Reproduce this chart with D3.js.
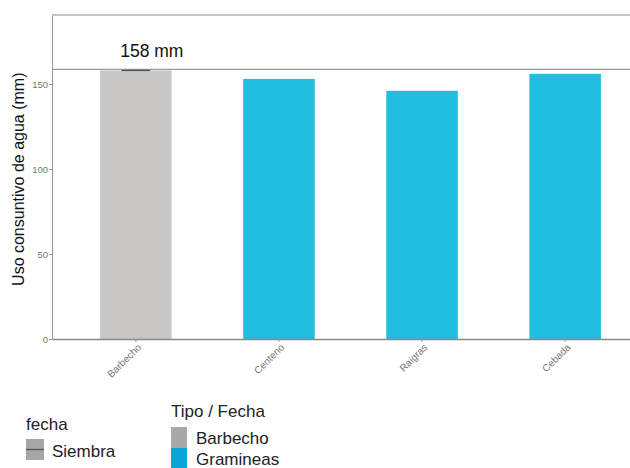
<!DOCTYPE html>
<html>
<head>
<meta charset="utf-8">
<style>
  body { margin: 0; background: #fff; }
  svg { font-family: 'Liberation Sans', Arial, sans-serif; }
  .tick text { fill: #777; }
</style>
</head>
<body>
<svg width="630" height="468"></svg>
<script src="https://d3js.org/d3.v7.min.js"></script>
<script>

// datos
var cultivos = ["Barbecho", "Centeno", "Raigras", "Cebada"];
var usoAgua = [158, 153, 146, 156];
var tipo = ["Barbecho", "Gramineas", "Gramineas", "Gramineas"];
var siembra = [158];          // marca "Siembra" sobre el barbecho
var referencia = 158;         // linea horizontal y etiqueta
var yTicks = [0, 50, 100, 150];

var svg = d3.select("svg"),
    margin = {top: 15, right: -19, bottom: 129, left: 52},
    width = +svg.attr("width") - margin.left - margin.right,
    height = +svg.attr("height") - margin.top - margin.bottom,
    g = svg.append("g").attr("transform", "translate(" + margin.left + "," + margin.top + ")");

var x = d3.scaleBand()
    .domain(cultivos)
    .range([0, width])
    .paddingInner(0.5)
    .paddingOuter(0.336);

var y = d3.scaleLinear()
    .domain([0, 190.6])
    .range([height, 0]);

var color = d3.scaleOrdinal()
    .domain(["Barbecho", "Gramineas"])
    .range(["#c9c6c6", "#20bfdf"]);

// borde superior del panel
g.append("line")
  .attr("x1", 0).attr("x2", width)
  .attr("y1", 0).attr("y2", 0)
  .attr("stroke", "#8a8a8a").attr("stroke-width", 1.2);

// barras
g.selectAll(".bar")
  .data(cultivos)
  .enter().append("rect")
  .attr("class", "bar")
  .attr("x", function (d) { return x(d); })
  .attr("y", function (d, i) { return y(usoAgua[i]); })
  .attr("width", x.bandwidth())
  .attr("height", function (d, i) { return height - y(usoAgua[i]); })
  .attr("fill", function (d, i) { return color(tipo[i]); });

// linea de referencia
g.append("line")
  .attr("x1", 0).attr("x2", width)
  .attr("y1", y(referencia) - 1).attr("y2", y(referencia) - 1)
  .attr("stroke", "#9a9a9a").attr("stroke-width", 1.2);

// marca de siembra
g.selectAll(".siembra")
  .data(siembra)
  .enter().append("line")
  .attr("class", "siembra")
  .attr("x1", x("Barbecho") + x.bandwidth() * 0.3)
  .attr("x2", x("Barbecho") + x.bandwidth() * 0.7)
  .attr("y1", function (d) { return y(d); })
  .attr("y2", function (d) { return y(d); })
  .attr("stroke", "#555").attr("stroke-width", 1.3);

g.append("text")
  .attr("x", x("Barbecho") + x.bandwidth() / 2 + 16)
  .attr("y", y(referencia) - 13)
  .attr("text-anchor", "middle")
  .style("font-size", "17.5px")
  .attr("fill", "#111")
  .text(referencia + " mm");

// ejes
var ax = g.append("g")
  .attr("transform", "translate(0," + height + ")")
  .call(d3.axisBottom(x).tickSize(3).tickSizeOuter(0));
ax.select(".domain").attr("stroke", "#888").attr("stroke-width", 1.5);
ax.selectAll(".tick line").attr("stroke", "#999");
ax.selectAll("text")
  .attr("y", 0).attr("x", 0).attr("dy", 0)
  .attr("transform", "translate(6,9) rotate(-45)")
  .style("text-anchor", "end")
  .style("font-size", "10px");

var ay = g.append("g")
  .call(d3.axisLeft(y).tickValues(yTicks).tickSize(3).tickSizeOuter(0));
ay.select(".domain").attr("stroke", "#999");
ay.selectAll(".tick line").attr("stroke", "#999");
ay.selectAll("text").style("font-size", "9.5px").attr("x", -4);

svg.append("text")
  .attr("transform", "translate(24," + (margin.top + y(94)) + ") rotate(-90)")
  .attr("text-anchor", "middle")
  .style("font-size", "16px")
  .attr("fill", "#111")
  .text("Uso consuntivo de agua (mm)");

// leyendas
var leg1 = svg.append("g").attr("transform", "translate(26,0)");
leg1.append("text").attr("x", 0).attr("y", 430)
  .style("font-size", "17px").attr("fill", "#222").text("fecha");
leg1.append("rect").attr("x", 0).attr("y", 439).attr("width", 18).attr("height", 21)
  .attr("fill", "#a6a6a6");
leg1.append("line").attr("x1", 0).attr("x2", 18).attr("y1", 449.5).attr("y2", 449.5)
  .attr("stroke", "#555").attr("stroke-width", 1.3);
leg1.append("text").attr("x", 26).attr("y", 457)
  .style("font-size", "17px").attr("fill", "#222").text("Siembra");

var leg2 = svg.append("g").attr("transform", "translate(171,0)");
leg2.append("text").attr("x", 0).attr("y", 417)
  .style("font-size", "17px").attr("fill", "#222").text("Tipo / Fecha");
var claves = ["Barbecho", "Gramineas"];
var clavesColor = ["#a8a8a8", "#0ba5dc"];
leg2.selectAll(".clave")
  .data(claves)
  .enter().append("rect")
  .attr("x", 0)
  .attr("y", function (d, i) { return 427 + i * 21; })
  .attr("width", 16).attr("height", 21)
  .attr("fill", function (d, i) { return clavesColor[i]; });
leg2.selectAll(".claveTxt")
  .data(claves)
  .enter().append("text")
  .attr("x", 25)
  .attr("y", function (d, i) { return 444 + i * 21; })
  .style("font-size", "17px").attr("fill", "#222")
  .text(function (d) { return d; });

</script>
</body>
</html>
